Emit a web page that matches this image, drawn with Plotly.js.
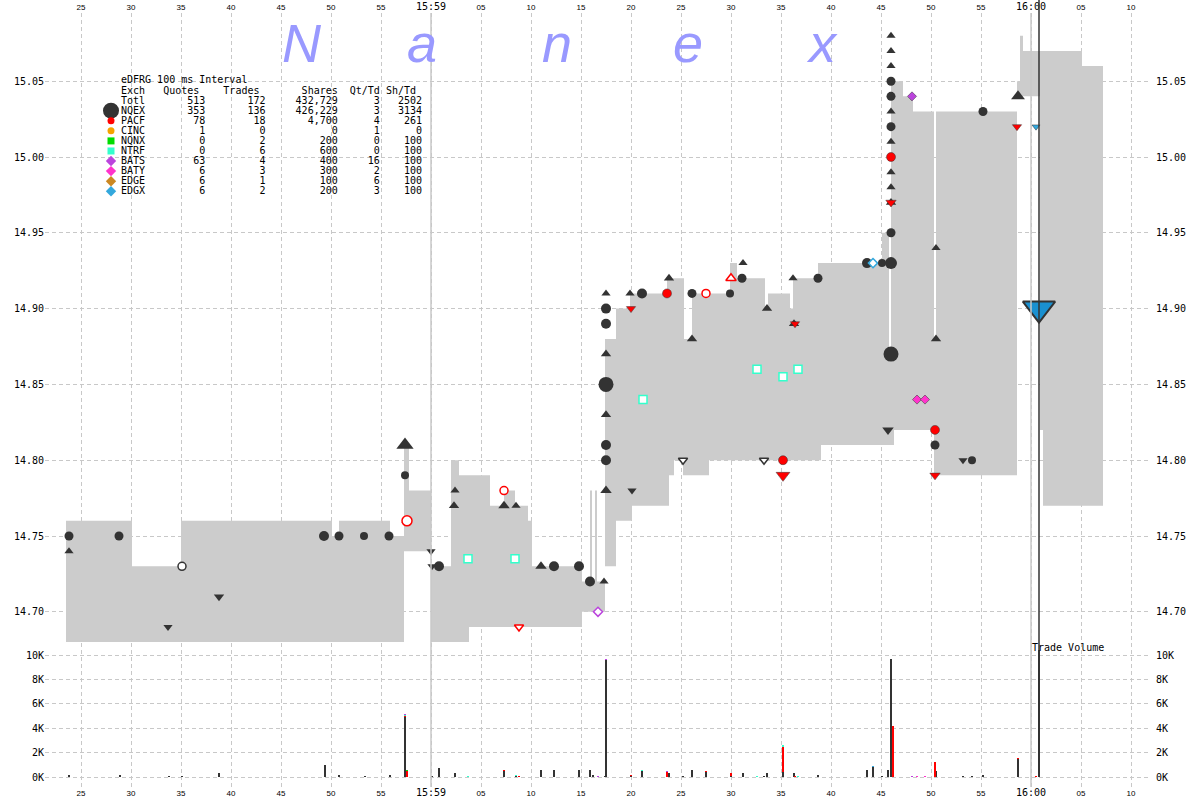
<!DOCTYPE html>
<html><head><meta charset="utf-8">
<script src="https://cdn.plot.ly/plotly-3.0.1.min.js"></script>
<style>html,body{margin:0;padding:0;background:#fff}#chart{width:1200px;height:800px}</style>
</head><body><div id="chart"></div>
<script>
// ---- DATA (time = seconds after 15:58:00) ----
const nbboTime = [23.5,30.1,35.0,50.1,50.8,55.9,57.3,57.8,60.0,62.0,62.8,63.8,65.9,67.3,68.4,69.7,70.1,75.1,75.9,76.1,76.4,76.6,77.4,78.5,79.9,80.1,83.6,83.8,84.3,85.2,85.3,86.1,87.8,89.9,90.6,93.4,93.7,95.9,96.2,98.7,99.0,105.1,105.8,106.0,106.3,107.2,108.2,110.3,110.5,118.6,118.9,119.2,120.9,121.2,125.1,127.2];
const nbboBid = [14.68,14.68,14.68,14.68,14.68,14.68,14.74,14.74,14.68,14.68,14.68,14.69,14.69,14.69,14.69,14.69,14.69,14.70,14.70,14.70,14.70,14.70,14.73,14.76,14.76,14.77,14.77,14.79,14.80,14.79,14.79,14.79,14.80,14.80,14.80,14.80,14.80,14.80,14.80,14.80,14.81,14.81,14.81,14.81,14.82,14.82,14.82,14.79,14.79,15.04,15.04,15.04,14.82,14.77,14.77,14.77];
const nbboAsk = [14.76,14.73,14.76,14.75,14.76,14.75,14.81,14.78,14.73,14.80,14.79,14.79,14.77,14.78,14.77,14.76,14.73,14.72,14.78,14.72,14.78,14.72,14.88,14.90,14.91,14.91,14.92,14.92,14.92,14.92,14.88,14.91,14.91,14.93,14.92,14.90,14.91,14.90,14.92,14.93,14.93,14.95,14.87,15.05,15.05,15.04,15.03,14.88,15.03,15.05,15.08,15.07,15.07,15.07,15.06,15.06];

const tradeTime = [
  23.8,23.8,28.8,33.7,35.1,38.8,49.3,50.8,53.3,55.8,
  57.4,57.4,57.5,57.6,60.0,60.1,60.8,62.3,62.4,63.7,
  67.3,67.3,68.5,68.4,68.8,71.0,72.3,74.8,75.9,76.7,
  77.3,77.5,77.5,77.5,77.5,77.5,77.5,77.5,77.5,77.5,
  79.9,80.0,80.1,81.1,81.2,83.6,83.8,85.2,86.1,86.1,
  87.5,89.9,90.0,91.1,91.2,92.6,93.3,93.6,95.2,95.2,
  95.2,96.2,96.3,96.4,96.7,98.7,103.6,104.2,105.1,105.7,
  106.0,106.0,106.0,106.0,106.0,106.0,106.0,106.0,106.0,106.0,
  106.0,106.0,106.0,106.0,106.0,106.0,108.1,108.6,109.4,110.4,
  110.4,110.4,110.5,110.5,113.2,114.1,115.2,118.7,118.6,120.5,
  120.8];
const tradePrice = [
  14.75,14.74,14.75,14.69,14.73,14.71,14.75,14.75,14.75,14.75,
  14.81,14.79,14.76,14.76,14.74,14.73,14.73,14.77,14.78,14.735,
  14.77,14.78,14.77,14.735,14.69,14.73,14.73,14.73,14.72,14.70,
  14.72,14.91,14.90,14.89,14.87,14.85,14.83,14.81,14.80,14.78,
  14.91,14.90,14.78,14.91,14.84,14.91,14.92,14.80,14.91,14.88,
  14.91,14.91,14.92,14.92,14.93,14.86,14.80,14.90,14.855,14.80,
  14.79,14.92,14.89,14.89,14.86,14.92,14.93,14.93,14.93,14.82,
  14.93,14.87,14.95,14.97,14.97,14.98,14.99,15.00,15.01,15.02,
  15.03,15.04,15.05,15.06,15.07,15.08,15.04,14.84,14.84,14.82,
  14.81,14.79,14.94,14.88,14.80,14.80,15.03,15.04,15.02,15.02,
  14.90];
const tradeExch = [
  'NQEX','NQEX','NQEX','NQEX','NQEX','NQEX','NQEX','NQEX','NQEX','NQEX',
  'NQEX','NQEX','NQEX','PACF','NQEX','NQEX','NQEX','NQEX','NQEX','NTRF',
  'NQEX','PACF','NQEX','NTRF','PACF','NQEX','NQEX','NQEX','NQEX','BATS',
  'NQEX','NQEX','NQEX','NQEX','NQEX','NQEX','NQEX','NQEX','NQEX','NQEX',
  'NQEX','PACF','NQEX','NQEX','NTRF','PACF','NQEX','NQEX','NQEX','NQEX',
  'PACF','NQEX','PACF','NQEX','NQEX','NTRF','NQEX','NQEX','NTRF','PACF',
  'PACF','NQEX','NQEX','PACF','NTRF','NQEX','NQEX','EDGX','NQEX','NQEX',
  'NQEX','NQEX','NQEX','NQEX','PACF','NQEX','NQEX','PACF','NQEX','NQEX',
  'NQEX','NQEX','NQEX','NQEX','NQEX','NQEX','BATS','BATY','BATY','PACF',
  'NQEX','PACF','NQEX','NQEX','NQEX','NQEX','NQEX','NQEX','PACF','EDGX',
  'NQEX'];
// F = full mark, U = upper half, D = lower half
const tradeShape = [
  'F','U','F','D','F','D','F','F','F','F',
  'U','F','U','F','D','D','F','U','U','F',
  'U','F','U','F','D','U','F','F','F','F',
  'U','U','F','F','U','F','U','F','F','U',
  'U','D','D','F','F','F','U','D','F','U',
  'F','F','U','F','U','F','D','U','F','F',
  'D','U','U','D','F','F','F','F','F','D',
  'F','F','F','U','D','U','U','F','U','F',
  'U','F','F','U','U','U','F','F','F','F',
  'F','D','U','U','D','F','F','U','D','D',
  'D'];
const tradeShares = [
  200,100,200,100,100,300,1000,200,100,200,
  4900,100,100,500,100,100,700,200,100,100,
  500,100,100,100,100,600,600,600,600,100,
  100,100,500,500,300,5000,300,1000,1000,900,
  100,100,100,500,100,400,300,100,300,300,
  100,100,200,200,100,100,100,300,100,300,
  1800,100,200,100,100,200,600,100,100,600,
  2000,5000,200,200,200,100,100,300,100,200,
  100,200,200,100,100,100,100,100,100,300,
  300,300,100,200,100,100,200,1500,100,100,
  355000];
// '' regular, 'h' hollow print, 'x' closing cross
const tradeCond = [
  '','','','','h','','','','','',
  '','','','h','','','','','','h',
  '','h','','h','h','','','','','h',
  '','','','','','','','','','',
  '','','','','h','','','h','','',
  'h','','h','','','h','h','','h','',
  '','','','','h','','','h','','',
  '','','','','','','','','','',
  '','','','','','','','','','',
  '','','','','','','','','','',
  'x'];

const volTime   = [23.8,28.9,33.8,35.1,38.8,49.4,50.8,53.4,55.9,57.4,57.4,57.4,57.4,57.6,57.6,60.1,60.8,62.4,63.7,67.3,67.3,68.5,68.5,68.8,71.0,72.3,74.8,75.9,76.2,76.7,77.4,77.5,77.5,80.0,80.0,81.1,81.1,83.6,83.6,83.8,85.2,86.1,87.5,87.5,90.0,90.0,91.2,92.6,93.3,93.6,95.2,95.2,95.2,96.3,96.4,96.7,98.7,103.6,104.2,104.2,105.1,105.7,106.0,106.2,108.1,108.6,109.4,110.4,110.5,113.2,114.1,115.2,118.7,118.7,120.5,120.8];
const volExch   = ['NQEX','NQEX','NQEX','NQEX','NQEX','NQEX','NQEX','NQEX','NQEX','NQEX','PACF','BATS','NTRF','PACF','NQNX','NQEX','NQEX','NQEX','NTRF','NQEX','PACF','NQEX','NTRF','PACF','NQEX','NQEX','NQEX','NQEX','NQEX','BATS','NQEX','NQEX','BATS','NQEX','PACF','NQEX','NTRF','PACF','BATS','NQEX','NQEX','NQEX','PACF','NQEX','PACF','NQEX','NQEX','NTRF','NQEX','NQEX','NQEX','PACF','NTRF','NQEX','PACF','NTRF','NQEX','NQEX','NQEX','EDGX','NQEX','NQEX','NQEX','PACF','BATS','BATY','BATY','PACF','NQEX','NQEX','NQEX','NQEX','NQEX','PACF','PACF','NQEX'];
const volShares = [200,200,100,100,300,1000,200,100,200,4900,100,100,100,500,100,100,700,300,100,500,100,100,100,100,600,600,600,600,200,100,100,9600,100,100,100,500,100,400,100,300,100,600,100,400,200,100,300,100,100,300,400,2100,100,300,100,100,200,600,800,100,100,600,9700,4200,100,100,100,1200,500,100,100,200,1500,100,100,355000];

const tableExch   = ['Totl','NQEX','PACF','CINC','NQNX','NTRF','BATS','BATY','EDGE','EDGX'];
const tableQuotes = [513,353,78,1,0,0,63,6,6,6];
const tableTrades = [172,136,18,0,2,6,4,3,1,2];
const tableShares = [432729,426229,4700,0,200,600,400,300,100,200];
const tableQtTd   = [3,3,4,1,0,0,16,2,6,3];
const tableShTd   = [2502,3134,261,0,100,100,100,100,100,100];

const xTickVals = [25,30,35,40,45,50,55,60,65,70,75,80,85,90,95,100,105,110,115,120,125,130];
const xTickLabels = ['25','30','35','40','45','50','55','15:59','05','10','15','20','25','30','35','40','45','50','55','16:00','05','10'];
const minuteMarks = [60,120];
const volTickVals = [0,2000,4000,6000,8000,10000];
const volTickLabels = ['0K','2K','4K','6K','8K','10K'];
const priceTicks = [14.70,14.75,14.80,14.85,14.90,14.95,15.00,15.05];

// ---- STYLE ----
const COLORS = {NQEX:'#333333',PACF:'#ff0000',CINC:'#f5a300',NQNX:'#00dd00',NTRF:'#33ffcc',BATS:'#bb44dd',BATY:'#ff33cc',EDGE:'#cc8822',EDGX:'#33a8dd'};
const FAMILY = {NQEX:'circle',PACF:'circle',CINC:'circle',NQNX:'square',NTRF:'square',BATS:'diamond',BATY:'diamond',EDGE:'diamond',EDGX:'diamond'};
const MONO = 'DejaVu Sans Mono';
const PL=45, PR=1151, PT=13, PB=787;
const px2x = x => (x-PL)/(PR-PL);
const px2y = y => (PB-y)/(PB-PT);
const PX_PER_SEC = 10, PX_PER_DOLLAR = 1516, PX_PER_SHARE = 121.7/10000;
const tAt = x => 25 + (x-81)/PX_PER_SEC;
const pAt = y => 14.75 + (536-y)/PX_PER_DOLLAR;
const vAt = y => (777-y)/PX_PER_SHARE;

function sizeFor(sh){ if(sh>=100000) return 28; if(sh>=4000) return 15; if(sh>=1500) return 12; if(sh>=500) return 10; if(sh>=200) return 9; return 8; }

const sym=[], sz=[], fill=[], lc=[], lw=[];
tradeTime.forEach((t,i)=>{
  const ex=tradeExch[i], sh=tradeShape[i], c=COLORS[ex], cond=tradeCond[i];
  sym.push(sh==='U'?'triangle-up':sh==='D'?'triangle-down':FAMILY[ex]);
  let s=sizeFor(tradeShares[i]); if(FAMILY[ex]==='diamond') s=Math.max(7,s-1);
  sz.push(s);
  if(cond==='x'){ fill.push('#1a90d0'); lc.push('#333333'); lw.push(2); }
  else if(cond==='h'){ fill.push('#ffffff'); lc.push(c); lw.push(1.5); }
  else { fill.push(c); lc.push(ex==='NQEX'?c:'#333333'); lw.push(ex==='NQEX'?0:0.5); }
});

const traces = [
  {x:nbboTime, y:nbboAsk, mode:'lines', line:{shape:'hv', width:0, color:'#cccccc'}, hoverinfo:'skip', showlegend:false, xaxis:'x', yaxis:'y'},
  {x:nbboTime, y:nbboBid, mode:'lines', line:{shape:'hv', width:0, color:'#cccccc'}, fill:'tonexty', fillcolor:'#cccccc', hoverinfo:'skip', showlegend:false, xaxis:'x', yaxis:'y'},
  {x:tradeTime, y:tradePrice, mode:'markers', marker:{symbol:sym, size:sz, color:fill, line:{color:lc, width:lw}, opacity:1}, hoverinfo:'skip', showlegend:false, xaxis:'x', yaxis:'y', cliponaxis:false},
];
Object.keys(COLORS).forEach(ex=>{
  const xs=[], ys=[];
  volTime.forEach((t,i)=>{ if(volExch[i]===ex){ xs.push(t); ys.push(volShares[i]); } });
  if(xs.length) traces.push({type:'bar', x:xs, y:ys, width:0.22, marker:{color:COLORS[ex], line:{width:0}}, hoverinfo:'skip', showlegend:false, xaxis:'x2', yaxis:'y2'});
});
traces.push({x:[null], y:[null], mode:'markers', xaxis:'x', yaxis:'y3', showlegend:false, hoverinfo:'skip'});
traces.push({x:[null], y:[null], mode:'markers', xaxis:'x2', yaxis:'y4', showlegend:false, hoverinfo:'skip'});

// legend glyphs of the stats table, drawn on a hidden pixel-unit overlay
const legEx = tableExch.slice(1);
traces.push({
  x: legEx.map(()=>111), y: legEx.map((ex,i)=>110.7+i*10.07), mode:'markers', xaxis:'x3', yaxis:'y5', hoverinfo:'skip', showlegend:false, cliponaxis:false,
  marker:{opacity:1, symbol: legEx.map(ex=>FAMILY[ex]), size: legEx.map(ex=>ex==='NQEX'?16:(FAMILY[ex]==='diamond'?8:7)), color: legEx.map(ex=>COLORS[ex]), line:{width:0}}
});

const tickText = xTickLabels.map(s => s.includes(':') ? `<span style="font-family:${MONO};font-size:10px">${s}</span>` : s);
const grid = {showgrid:true, gridcolor:'#c8c8c8', griddash:'4px,3px', gridwidth:1, zeroline:false, showline:false, ticks:'', fixedrange:true};
const xRange = [tAt(PL), tAt(PR)];
const priceRange = [pAt(648), pAt(PT)];
const volRange = [vAt(PB), vAt(650)];
const xTickFont = {family:'Liberation Sans', size:8, color:'#000'};
const yTickFont = {family:MONO, size:10, color:'#000'};

const annotations = [];
// watermark
const brand = ['N','a','n','e','x'], brandX = [302,422,557,688,822];
brand.forEach((ch,i)=>annotations.push({text:`<i>${ch}</i>`, xref:'paper', yref:'paper', x:px2x(brandX[i]), y:px2y(43), xanchor:'center', yanchor:'middle', showarrow:false, font:{family:'Liberation Sans', size:54, color:'#9999ff'}}));
// stats table
const padL=(s,n)=>{s=String(s);while(s.length<n)s=' '+s;return s;};
const padR=(s,n)=>{s=String(s);while(s.length<n)s=s+' ';return s;};
const nb = s => s.replace(/ /g,'\u00A0');
const rows = ['eDFRG 100 ms Interval', padR('Exch',7)+padR('Quotes',10)+padR('Trades',13)+padR('Shares',8)+padR('Qt/Td',6)+'Sh/Td'];
tableExch.forEach((ex,i)=>rows.push(padR(ex,7)+padL(tableQuotes[i],7)+padL(tableTrades[i],10)+padL(tableShares[i].toLocaleString('en-US'),12)+padL(tableQtTd[i],7)+padL(tableShTd[i],7)));
rows.forEach((r,i)=>annotations.push({text:nb(r), xref:'paper', yref:'paper', x:px2x(120), y:px2y(80+i*10.07), xanchor:'left', yanchor:'middle', showarrow:false, borderpad:0, font:{family:MONO, size:10, color:'#000'}}));
annotations.push({text:nb('Trade Volume'), xref:'paper', yref:'paper', x:px2x(1031), y:px2y(647), xanchor:'left', yanchor:'middle', showarrow:false, borderpad:0, font:{family:MONO, size:10, color:'#000'}});

const crossIdx = tradeCond.indexOf('x');
const shapes = minuteMarks.map(t=>({type:'line', xref:'x', yref:'paper', x0:t, x1:t, y0:0, y1:1, line:{color:'#c8c8c8', width:1.5}, layer:'above'}));
shapes.push({type:'line', xref:'x', yref:'paper', x0:tradeTime[crossIdx], x1:tradeTime[crossIdx], y0:px2y(777), y1:px2y(0), line:{color:'#333333', width:1.5}, layer:'above'});

const layout = {
  width:1200, height:800, margin:{l:PL, r:1200-PR, t:PT, b:800-PB, pad:0},
  paper_bgcolor:'#fff', plot_bgcolor:'#fff', showlegend:false, hovermode:false, barmode:'stack', bargap:0,
  xaxis:{...grid, domain:[0,1], anchor:'y', side:'top', range:xRange, tickmode:'array', tickvals:xTickVals, ticktext:tickText, tickfont:xTickFont},
  xaxis2:{...grid, domain:[0,1], anchor:'y2', side:'bottom', range:xRange, tickmode:'array', tickvals:xTickVals, ticktext:tickText, tickfont:xTickFont},
  xaxis3:{overlaying:'x', anchor:'y5', range:[PL,PR], visible:false, fixedrange:true},
  yaxis:{...grid, domain:[px2y(648),1], anchor:'x', range:priceRange, tickmode:'array', tickvals:priceTicks, ticktext:priceTicks.map(v=>v.toFixed(2)), tickfont:yTickFont},
  yaxis2:{...grid, domain:[0,px2y(650)], anchor:'x2', range:volRange, tickmode:'array', tickvals:volTickVals, ticktext:volTickLabels, tickfont:yTickFont},
  yaxis3:{showgrid:false, zeroline:false, showline:false, ticks:'', overlaying:'y', side:'right', anchor:'x', range:priceRange, tickmode:'array', tickvals:priceTicks, ticktext:priceTicks.map(v=>v.toFixed(2)), tickfont:yTickFont, ticklabelstandoff:4},
  yaxis4:{showgrid:false, zeroline:false, showline:false, ticks:'', overlaying:'y2', side:'right', anchor:'x2', range:volRange, tickmode:'array', tickvals:volTickVals, ticktext:volTickLabels, tickfont:yTickFont, ticklabelstandoff:4},
  yaxis5:{overlaying:'y', anchor:'x3', range:[648,PT], visible:false, fixedrange:true},
  annotations, shapes
};
Plotly.newPlot('chart', traces, layout, {displayModeBar:false, staticPlot:true});
</script></body></html>
